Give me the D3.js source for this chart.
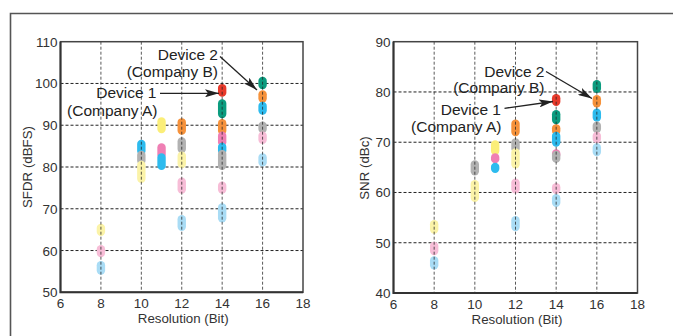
<!DOCTYPE html>
<html><head><meta charset="utf-8">
<script src="https://cdn.jsdelivr.net/npm/d3@7"></script>
<style>
html,body{margin:0;padding:0;background:#fff;}
svg{display:block;font-family:"Liberation Sans",Arial,Helvetica,sans-serif;}
</style></head>
<body><svg id="c" width="673" height="336"></svg>
<script>
// ---------- data ----------
const xTicks = [6, 8, 10, 12, 14, 16, 18];
const sfdrTicks = [50, 60, 70, 80, 90, 100, 110];
const snrTicks = [40, 50, 60, 70, 80, 90];

const seriesColors = {
  lightBlue: "#a9dcf5", lightPink: "#f7bdd7", lightYellow: "#fbf3a8",
  gray: "#b2b2b2", blue: "#2dbbee", magenta: "#ef7fb4", yellow: "#fbee78",
  orange: "#f6923b", green: "#0b9c7f", red: "#e83a2b"
};

// [resolution bits, low dB, high dB, series]
const sfdrData = [
  [8, 63.5, 66.4, "lightYellow"], [8, 58.4, 61.3, "lightPink"], [8, 54.2, 57.5, "lightBlue"],
  [10, 82.8, 86.5, "blue"], [10, 80.5, 83.9, "gray"], [10, 76.2, 81.5, "lightYellow"],
  [11, 88.1, 91.9, "yellow"], [11, 81.9, 85.7, "magenta"], [11, 79.3, 83.3, "blue"],
  [12, 87.7, 91.7, "orange"], [12, 83.3, 87.1, "gray"], [12, 79.7, 83.7, "lightYellow"],
  [12, 73.6, 77.5, "lightPink"], [12, 64.7, 68.5, "lightBlue"],
  [14, 96.8, 99.9, "red"], [14, 91.7, 96.2, "green"], [14, 87.7, 91.5, "orange"],
  [14, 84.9, 88.5, "magenta"], [14, 82.9, 85.8, "blue"], [14, 79.3, 84.1, "gray"],
  [14, 73.6, 76.5, "lightPink"], [14, 66.7, 71.3, "lightBlue"],
  [16, 98.6, 101.6, "green"], [16, 95.4, 98.4, "orange"], [16, 92.5, 95.6, "blue"],
  [16, 88.1, 90.9, "gray"], [16, 85.5, 88.5, "lightPink"], [16, 80.1, 83.3, "lightBlue"]
];

const snrData = [
  [8, 51.8, 54.5, "lightYellow"], [8, 47.5, 50.2, "lightPink"], [8, 44.7, 47.3, "lightBlue"],
  [10, 63.4, 66.4, "gray"], [10, 58.1, 62.5, "lightYellow"],
  [11, 67.4, 70.4, "yellow"], [11, 65.8, 67.8, "magenta"], [11, 63.9, 65.9, "blue"],
  [12, 71.2, 74.5, "orange"], [12, 67.9, 70.8, "gray"], [12, 64.8, 68.8, "lightYellow"],
  [12, 59.8, 62.8, "lightPink"], [12, 52.3, 55.3, "lightBlue"],
  [14, 77.2, 79.6, "red"], [14, 73.6, 76.4, "green"], [14, 71.4, 73.6, "orange"],
  [14, 69.1, 72.1, "blue"], [14, 66.6, 68.6, "magenta"], [14, 65.9, 68.3, "gray"],
  [14, 59.7, 61.9, "lightPink"], [14, 57.1, 59.7, "lightBlue"],
  [16, 79.8, 82.4, "green"], [16, 76.9, 79.4, "orange"], [16, 74.1, 76.7, "blue"],
  [16, 71.8, 74.1, "gray"], [16, 69.8, 72.1, "lightPink"], [16, 67.2, 69.8, "lightBlue"]
];

const annotations = ["Device 2", "(Company B)", "Device 1", "(Company A)"];

// ---------- drawing ----------
const svg = d3.select("#c");
const defs = svg.append("defs");
defs.append("marker").attr("id", "ah").attr("viewBox", "0 0 14 8")
  .attr("refX", 14).attr("refY", 4).attr("markerWidth", 14).attr("markerHeight", 8)
  .attr("markerUnits", "userSpaceOnUse").attr("orient", "auto")
  .append("path").attr("d", "M0,0 L14,4 L0,8 L3,4 Z").attr("fill", "#222");

// outer frame
svg.append("path").attr("d", "M10.5,336 V13.5 H673").attr("fill", "none")
  .attr("stroke", "#555").attr("stroke-width", 1.6);

function panel(cfg) {
  const x = d3.scaleLinear().domain([6, 18]).range([cfg.left, cfg.right]);
  const y = d3.scaleLinear().domain(cfg.yDomain).range([cfg.bottom, cfg.top]);
  const g = svg.append("g");

  // horizontal grid
  g.append("g").selectAll("line").data(cfg.yTicks.slice(1, -1)).join("line")
    .attr("x1", cfg.left).attr("x2", cfg.right)
    .attr("y1", d => y(d)).attr("y2", d => y(d))
    .attr("stroke", "#222").attr("stroke-width", 1).attr("stroke-dasharray", "3,2");

  // pills
  g.append("g").selectAll("rect").data(cfg.data).join("rect")
    .attr("x", d => x(d[0]) - 4.2).attr("width", 8.4)
    .attr("y", d => y(d[2])).attr("height", d => y(d[1]) - y(d[2]))
    .attr("rx", 4.2).attr("ry", 4.2)
    .attr("fill", d => seriesColors[d[3]]);

  // vertical grid (on top of pills)
  g.append("g").selectAll("line").data(xTicks.slice(1, -1)).join("line")
    .attr("x1", d => x(d)).attr("x2", d => x(d))
    .attr("y1", cfg.top).attr("y2", cfg.bottom)
    .attr("stroke", "#222").attr("stroke-opacity", 0.75).attr("stroke-width", 1).attr("stroke-dasharray", "3,2");

  // frame
  g.append("rect").attr("x", cfg.left).attr("y", cfg.top)
    .attr("width", cfg.right - cfg.left).attr("height", cfg.bottom - cfg.top)
    .attr("fill", "none").attr("stroke", "#444").attr("stroke-width", 1.5);
  g.append("path").attr("d", `M${cfg.left},${cfg.top} V${cfg.bottom} H${cfg.right}`)
    .attr("fill", "none").attr("stroke", "#333").attr("stroke-width", 2);

  // axes labels
  g.append("g").selectAll("text").data(xTicks).join("text")
    .attr("x", d => x(d)).attr("y", cfg.bottom + 16).attr("text-anchor", "middle")
    .attr("font-size", 13.5).attr("fill", "#333").text(d => d);
  g.append("g").selectAll("text").data(cfg.yTicks).join("text")
    .attr("x", cfg.left - 3).attr("y", d => y(d) + 5).attr("text-anchor", "end")
    .attr("font-size", 13.5).attr("fill", "#333").text(d => d);
  g.append("text").attr("x", (cfg.left + cfg.right) / 2 + 1.5).attr("y", cfg.bottom + 31)
    .attr("text-anchor", "middle").attr("font-size", 13.3).attr("fill", "#333").text("Resolution (Bit)");
  g.append("text").attr("transform", `translate(${cfg.ytx},${cfg.yty}) rotate(-90)`)
    .attr("text-anchor", "middle").attr("dominant-baseline", "central")
    .attr("font-size", 13.3).attr("fill", "#333").text(cfg.yTitle);

  // annotations
  const a = cfg.ann;
  annotations.forEach((t, i) => {
    g.append("text").attr("x", a.tx[i]).attr("y", a.ty[i]).attr("text-anchor", "end")
      .attr("font-size", 15.5).attr("fill", "#222").text(t);
  });
  a.arrows.forEach(ar => {
    g.append("line").attr("x1", ar[0]).attr("y1", ar[1]).attr("x2", ar[2]).attr("y2", ar[3])
      .attr("stroke", "#222").attr("stroke-width", 1.3).attr("marker-end", "url(#ah)");
  });
}

panel({
  left: 60.5, right: 303, top: 41.7, bottom: 292.3, yDomain: [50, 110], yTicks: sfdrTicks,
  data: sfdrData, yTitle: "SFDR (dBFS)", ytx: 27.5, yty: 167,
  ann: {
    tx: [218, 218, 156.5, 157.5], ty: [60, 77, 98, 116],
    arrows: [[220, 56.5, 257, 90], [160, 93.3, 219, 93.3]]
  }
});

panel({
  left: 393.5, right: 637.5, top: 41.7, bottom: 293, yDomain: [40, 90], yTicks: snrTicks,
  data: snrData, yTitle: "SNR (dBc)", ytx: 364.5, yty: 168,
  ann: {
    tx: [544.5, 544.5, 501, 501.5], ty: [76.5, 92.5, 115, 132],
    arrows: [[546, 71.5, 592, 98.5], [504.5, 108.3, 553, 101.5]]
  }
});
</script>
</body></html>
